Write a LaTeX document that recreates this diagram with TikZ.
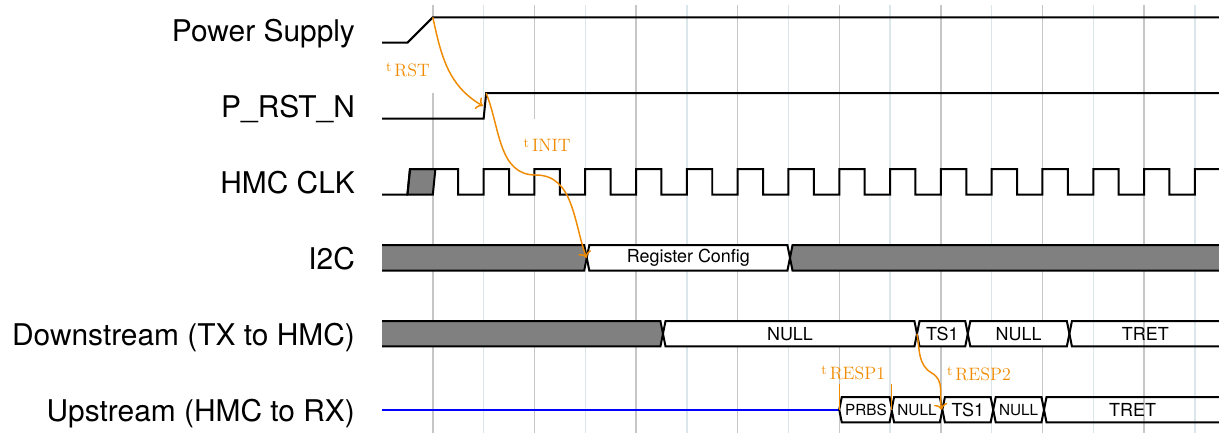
\documentclass[tikz,border=0pt]{standalone}
\usepackage{fontspec}
\usepackage{xcolor}
\usepackage{tikz}
\usetikzlibrary{arrows.meta}
\newfontfamily\heros{TeX Gyre Heros}
\definecolor{gridgray}{HTML}{C6C6C6}
\definecolor{gridblue}{HTML}{DAE6EA}
\definecolor{annot}{HTML}{F08A00}
\definecolor{busgray}{HTML}{808080}
\definecolor{zline}{HTML}{0000FF}
\tikzset{
  sig/.style={draw=black, line width=1.5pt, line join=miter},
  zsig/.style={draw=zline, line width=1.5pt},
  gline/.style={draw=gridgray, line width=1.1pt},
  bline/.style={draw=gridblue, line width=1.1pt},
  ann/.style={draw=annot, line width=1.1pt},
  annarr/.style={ann, -{To[length=4.5pt, width=10pt]}},
  annlbl/.style={text=annot, font=\fontsize{13.5}{14}\selectfont\addfontfeatures{LetterSpace=4}, inner sep=0pt},
  rowlbl/.style={font=\heros\fontsize{22.5}{24}\selectfont, anchor=base east, inner sep=0pt},
  buslbl/.style={font=\heros\fontsize{13.5}{14}\selectfont, inner sep=0pt},
  smallbus/.style={font=\heros\fontsize{11.5}{12}\selectfont, inner sep=0pt}
}
\newcommand{\tlab}[1]{\raisebox{3.5pt}{\fontsize{10.5}{11}\selectfont t}\,#1}

\begin{document}
\begin{tikzpicture}[x=0.672cm, y=0.672cm]
\useasboundingbox (-15.04,0) rectangle (32.95,-17.05);

% grid
\foreach \k in {10,14,...,30} \draw[gline] (\k,-0.2) -- (\k,-17.05);
\draw[gline] (2,-0.2) -- (2,-0.68);
\draw[gline] (2,-3.67) -- (2,-17.05);
\draw[gline] (6,-0.2) -- (6,-4.67);
\draw[gline] (6,-6.66) -- (6,-17.05);
\foreach \k in {4,8,...,32} \draw[bline] (\k,-0.2) -- (\k,-17.05);

% row labels
\node[rowlbl] (lpwr) at (-1.06,-1.64) {Power Supply};
\node[rowlbl] (lrst) at (-1.06,-4.63) {P\_RST\_N};
\node[rowlbl] (lclk) at (-1.06,-7.62) {HMC CLK};
\node[rowlbl] (li2c) at (-1.06,-10.61) {I2C};
\node[rowlbl] (ldn) at (-1.06,-13.60) {Downstream (TX to HMC)};
\node[rowlbl] (lup) at (-1.06,-16.59) {Upstream (HMC to RX)};

% power supply
\draw[sig] (0,-1.68) -- (1,-1.68) -- (2,-0.68) -- (32.95,-0.68);

% reset
\draw[sig] (0,-4.67) -- (4,-4.67) -- (4.1,-3.67) -- (32.95,-3.67);

% clock
\filldraw[sig, fill=busgray] (1,-7.66) -- (1.1,-6.66) -- (2.1,-6.66) -- (2,-7.66) -- cycle;
\draw[sig] (0,-7.66) -- (1,-7.66) -- (1.1,-6.66) -- (2.1,-6.66)
  \foreach \k in {3,5,...,31} { -- (\k,-6.66) -- (\k,-7.66) -- (\k+1,-7.66) -- (\k+1,-6.66) }
  -- (32.95,-6.66);

% i2c
\fill[busgray] (0,-9.65) -- (7.96,-9.65) -- (8.06,-10.15) -- (7.96,-10.65) -- (0,-10.65) -- cycle;
\draw[sig] (0,-9.65) -- (7.96,-9.65) -- (8.06,-10.15) -- (7.96,-10.65) -- (0,-10.65);
\draw[sig, fill=white] (8.06,-10.15) -- (8.16,-9.65) -- (15.96,-9.65) -- (16.06,-10.15) -- (15.96,-10.65) -- (8.16,-10.65) -- cycle;
\node[buslbl] (cfg) at (12.06,-10.15) {Register Config};
\fill[busgray] (32.95,-9.65) -- (16.16,-9.65) -- (16.06,-10.15) -- (16.16,-10.65) -- (32.95,-10.65) -- cycle;
\draw[sig] (32.95,-9.65) -- (16.16,-9.65) -- (16.06,-10.15) -- (16.16,-10.65) -- (32.95,-10.65);

% downstream
\fill[busgray] (0,-12.64) -- (10.96,-12.64) -- (11.06,-13.14) -- (10.96,-13.64) -- (0,-13.64) -- cycle;
\draw[sig] (0,-12.64) -- (10.96,-12.64) -- (11.06,-13.14) -- (10.96,-13.64) -- (0,-13.64);
\foreach \a/\b/\txt in {11/21/NULL, 21/23/TS1, 23/27/NULL} {
  \draw[sig, fill=white] (\a+0.06,-13.14) -- (\a+0.16,-12.64) -- (\b-0.04,-12.64) -- (\b+0.06,-13.14) -- (\b-0.04,-13.64) -- (\a+0.16,-13.64) -- cycle;
  \node[buslbl] at ({(\a+\b)/2+0.06},-13.14) {\txt};
}
\draw[sig] (32.95,-12.64) -- (27.16,-12.64) -- (27.06,-13.14) -- (27.16,-13.64) -- (32.95,-13.64);
\node[buslbl] (dtret) at (30.05,-13.14) {TRET};

% upstream
\draw[zsig] (0,-16.13) -- (18,-16.13);
\draw[sig, fill=white] (18,-16.13) -- (18.1,-15.63) -- (19.98,-15.63) -- (20.08,-16.13) -- (19.98,-16.63) -- (18.1,-16.63) -- cycle;
\node[smallbus] (prbs) at (19.05,-16.13) {PRBS};
\foreach \a/\b/\txt/\sty in {20/22/NULL/smallbus, 22/24/TS1/buslbl, 24/26/NULL/smallbus} {
  \draw[sig, fill=white] (\a+0.06,-16.13) -- (\a+0.16,-15.63) -- (\b-0.04,-15.63) -- (\b+0.06,-16.13) -- (\b-0.04,-16.63) -- (\a+0.16,-16.63) -- cycle;
  \node[\sty] at ({(\a+\b)/2+0.06},-16.13) {\txt};
}
\draw[sig] (32.95,-15.63) -- (26.16,-15.63) -- (26.06,-16.13) -- (26.16,-16.63) -- (32.95,-16.63);
\node[buslbl] (utret) at (29.55,-16.13) {TRET};

% timing annotations
\coordinate (pwrup) at (2,-0.68);
\coordinate (rstedge) at (3.97,-4.17);
\coordinate (rsttop) at (4.1,-3.67);
\coordinate (initbend) at (6.05,-6.89);
\coordinate (i2cx) at (8.05,-10.15);
\coordinate (dnx) at (21.06,-13.14);
\coordinate (respbend) at (21.65,-14.69);
\coordinate (upx) at (22.03,-16.13);
\coordinate (resp1a) at (18,-15.12);
\coordinate (resp1b) at (20.06,-15.12);

\draw[annarr] (pwrup) to[out=-78, in=150] (rstedge);
\node[annlbl] (trst) at (1.02,-2.76) {\tlab{RST}};

\draw[annarr] (rsttop) to[out=-68, in=180] (initbend) to[out=0, in=110] (i2cx);
\node[annlbl] (tinit) at (6.5,-5.71) {\tlab{INIT}};

\draw[ann] (resp1a) -- (18,-16.13);
\draw[ann] (resp1b) -- (20.06,-16.13);
\node[annlbl] (tresp1) at (18.55,-14.69) {\tlab{RESP1}};

\draw[annarr] (dnx) to[out=-80, in=150] (respbend) to[out=-30, in=100] (upx);
\node[annlbl] (tresp2) at (23.5,-14.72) {\tlab{RESP2}};
\end{tikzpicture}
\end{document}
